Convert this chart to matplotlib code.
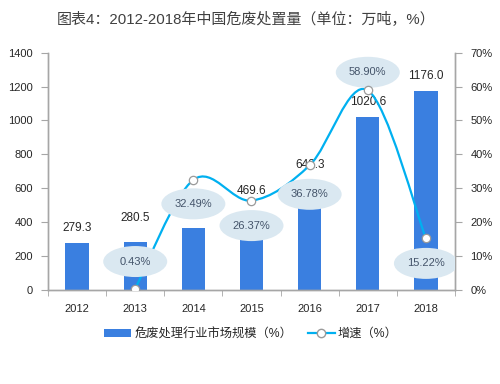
import matplotlib.pyplot as plt
from matplotlib.path import Path
from matplotlib.patches import PathPatch, Ellipse
from matplotlib.lines import Line2D
from matplotlib.ticker import FuncFormatter

plt.rcParams['font.family'] = ['Liberation Sans', 'Noto Sans CJK SC', 'DejaVu Sans']

# data
years = ['2012', '2013', '2014', '2015', '2016', '2017', '2018']
bar_heights = [279.3, 280.5, 367, 298, 484, 1020.6, 1176.0]
bar_labels = ['279.3', '280.5', '', '469.6', '642.3', '1020.6', '1176.0']
label_values = [279.3, 280.5, None, 469.6, 642.3, 1020.6, 1176.0]
growth_years = [1, 2, 3, 4, 5, 6]
growth = [0.43, 32.49, 26.37, 36.78, 58.90, 15.22]
growth_labels = ['0.43%', '32.49%', '26.37%', '36.78%', '58.90%', '15.22%']

# placement of annotations (pixels)
label_offsets = [15, 24.5, 0, 19, 16, 15, 15]
bubble_offsets = [27, -24, -25, -29, 18, -25]

bar_color = '#3A7FE0'
line_color = '#00B0F0'
axis_color = '#A6A6A6'
text_color = '#262626'

fig = plt.figure(figsize=(5, 3.84), dpi=100)
ax = fig.add_axes([0.096, 0.2448, 0.814, 0.618])
ax2 = ax.twinx()

x = list(range(len(years)))
bars = ax.bar(x, bar_heights, width=0.4, color=bar_color, zorder=2)

ax.set_xlim(-0.5, 6.5)
ax.set_ylim(0, 1400)
ax.set_yticks(range(0, 1401, 200))
ax2.set_ylim(0, 70)
ax2.set_yticks(range(0, 71, 10))
ax2.yaxis.set_major_formatter(FuncFormatter(lambda v, p: f'{int(v)}%'))

ax.set_xticks(x)
ax.set_xticklabels(years)
ax.set_xticks([i - 0.5 for i in range(len(years) + 1)], minor=True)
ax.tick_params(axis='x', which='major', length=0, pad=10, labelsize=8, colors=text_color)
ax.tick_params(axis='x', which='minor', length=4, color=axis_color, direction='out')
ax.tick_params(axis='y', length=5, color=axis_color, pad=6, labelsize=8, labelcolor=text_color)
ax2.tick_params(axis='y', length=5, color=axis_color, pad=6, labelsize=8, labelcolor=text_color)

for a in (ax, ax2):
    a.spines['top'].set_visible(False)
    for s in ('left', 'right', 'bottom'):
        a.spines[s].set_color(axis_color)
        a.spines[s].set_linewidth(1.0)

# bar value labels
for i, (lab, v) in enumerate(zip(bar_labels, label_values)):
    if lab:
        ax.annotate(lab, (i, v), xytext=(0, label_offsets[i] * 0.72), textcoords='offset points',
                    ha='center', va='center', fontsize=8.5, color=text_color, zorder=5)

# smooth growth line (bezier through the points)
pts = list(zip(growth_years, growth))
verts = [pts[0]]
codes = [Path.MOVETO]
n = len(pts)
for i in range(n - 1):
    p0 = pts[i - 1] if i > 0 else pts[i]
    p1 = pts[i]
    p2 = pts[i + 1]
    p3 = pts[i + 2] if i + 2 < n else pts[i + 1]
    c1 = (p1[0] + (p2[0] - p0[0]) / 6, p1[1] + (p2[1] - p0[1]) / 6)
    c2 = (p2[0] - (p3[0] - p1[0]) / 6, p2[1] - (p3[1] - p1[1]) / 6)
    verts += [c1, c2, p2]
    codes += [Path.CURVE4] * 3
ax2.add_patch(PathPatch(Path(verts, codes), fill=False, edgecolor=line_color, lw=1.6, zorder=3))

# bubbles with growth values
px_per_x = 407 / 7
px_per_pct = 237.3 / 70
for gx, gy, lab, off in zip(growth_years, growth, growth_labels, bubble_offsets):
    cy = gy + off / px_per_pct
    ax2.add_patch(Ellipse((gx, cy), 64 / px_per_x, 31 / px_per_pct, facecolor='#DAE8F1',
                          edgecolor='none', zorder=4))
    ax2.text(gx, cy, lab, ha='center', va='center', fontsize=8, color='#44546A', zorder=5)

ax2.plot(growth_years, growth, linestyle='none', marker='o', markersize=6,
         markerfacecolor='white', markeredgecolor='#9A9A9A', markeredgewidth=0.9, zorder=6)

fig.text(0.493, 0.948, '图表4：2012-2018年中国危废处置量（单位：万吨，%）', ha='center', va='center',
         fontsize=10.8, color='#404040')

handles = [bars,
           Line2D([], [], color=line_color, lw=1.6, marker='o', markersize=6,
                  markerfacecolor='white', markeredgecolor='#9A9A9A')]
fig.legend(handles, ['危废处理行业市场规模（%）', '增速（%）'], loc='center',
           bbox_to_anchor=(0.502, 0.13), ncol=2, frameon=False, fontsize=8.8,
           handlelength=2.2, handleheight=0.6, columnspacing=1.3, handletextpad=0.25,
           labelcolor=text_color)

fig.savefig('out.png', dpi=100, facecolor='white')
